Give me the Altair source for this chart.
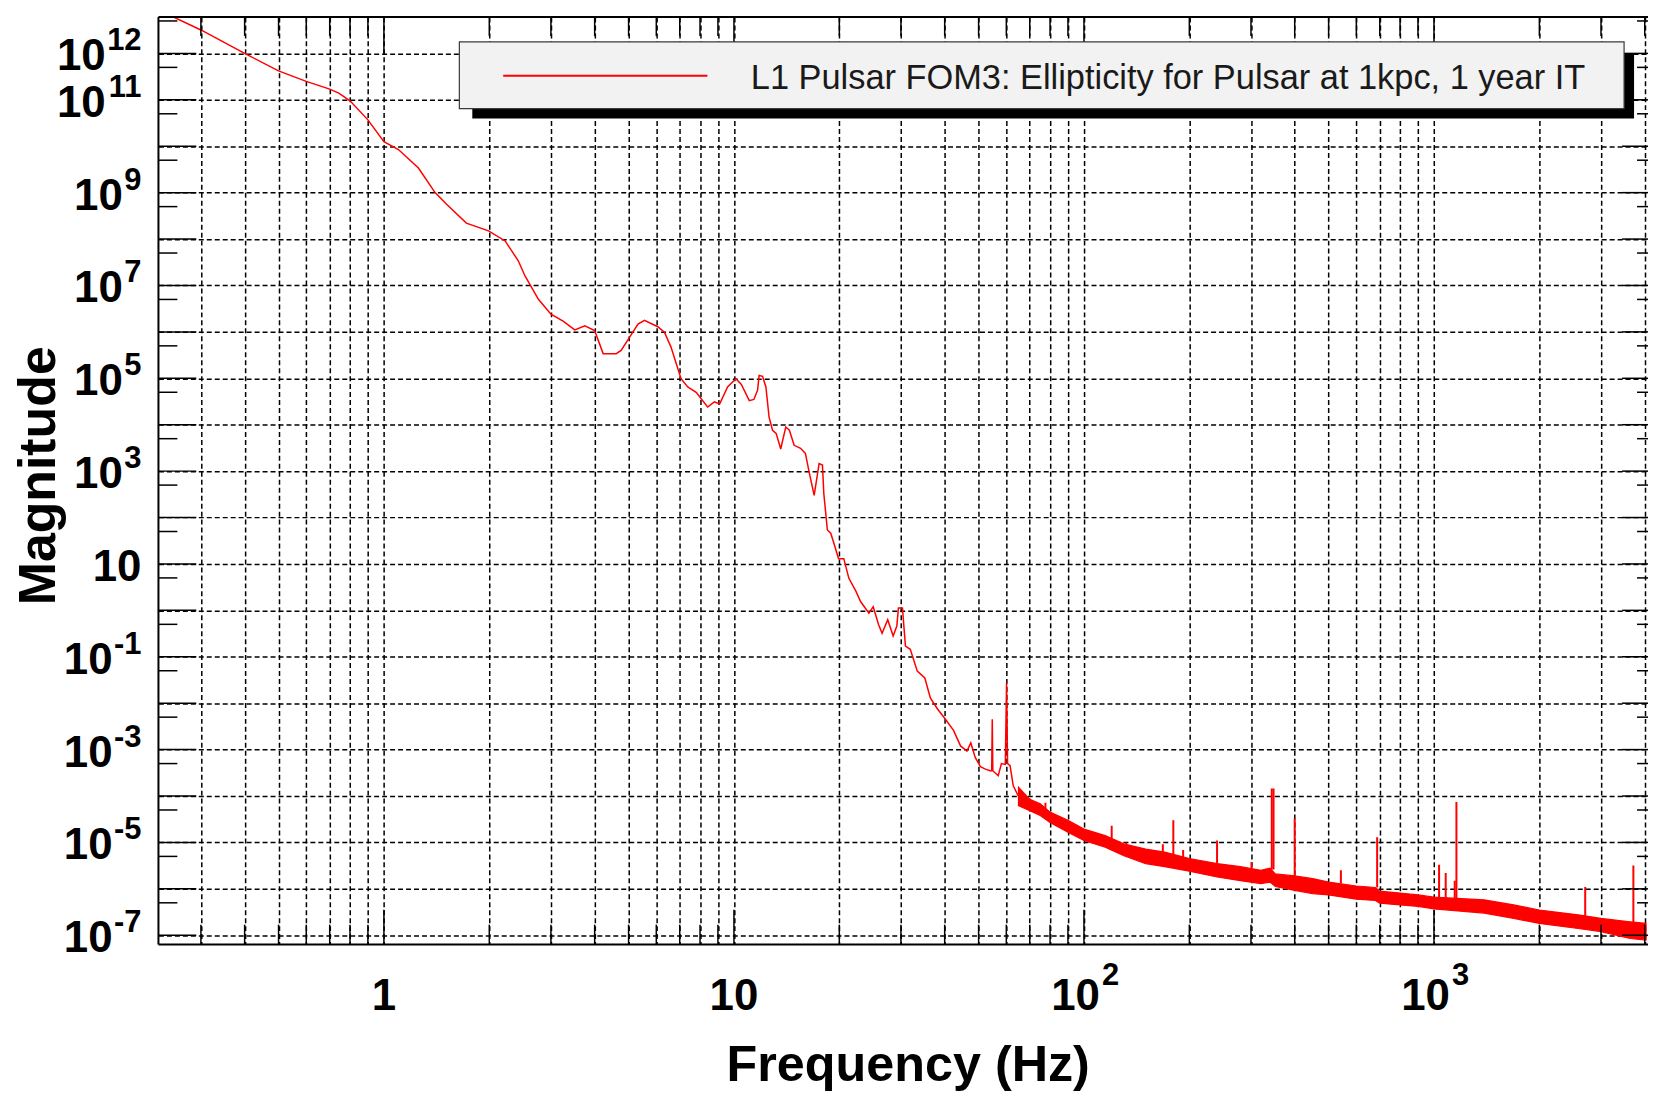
import altair as alt
import pandas as pd

# ---------------- values ----------------
# low-frequency part of the curve (thin line), Hz / magnitude
lf_freq = [0.248, 0.30, 0.40, 0.50, 0.60, 0.70, 0.743, 0.80, 0.90, 1.00,
           1.10, 1.255, 1.40, 1.51, 1.72, 1.99, 2.22, 2.42, 2.53, 2.76,
           3.00, 3.25, 3.51, 3.75, 4.00, 4.23, 4.61, 4.76, 5.03, 5.32,
           5.55, 6.06, 6.33, 6.61, 7.06, 7.38, 7.80, 8.41, 8.79, 9.10,
           9.59, 10.13, 10.5, 11.06, 11.4, 11.68, 11.8, 12.07, 12.34, 12.6,
           12.89, 13.2, 13.47, 13.6, 14.06, 14.4, 14.86, 15.5, 16.0, 16.4,
           16.95, 17.51, 17.9, 18.06, 18.49, 18.9, 19.3, 19.9, 20.6, 21.3,
           22.3, 23.0, 24.3, 25.0, 25.9, 26.5, 27.5, 28.5, 29.2, 29.5,
           30.3, 30.9, 31.9, 33.4, 35.1, 36.4, 38.2, 40.2, 42.4, 44.4,
           46.3, 47.5, 48.9, 50.6, 52.3, 53.9, 54.5, 54.7, 54.9, 55.6,
           56.9, 58.1, 59.6, 60.1, 60.5, 61.5, 62.8, 64.9]
lf_mag = [6.3e12, 3.2e12, 1.0e12, 4.2e11, 2.5e11, 1.7e11, 1.4e11, 9.5e10, 3.7e10, 1.26e10,
          8.5e9, 3.4e9, 1.0e9, 5.6e8, 2.2e8, 1.5e8, 9.1e7, 3.4e7, 1.6e7, 5.1e6,
          2.4e6, 1.7e6, 1.1e6, 1.35e6, 1.07e6, 3.4e5, 3.4e5, 4.0e5, 7.6e5, 1.48e6,
          1.78e6, 1.29e6, 9.8e5, 4.7e5, 9.8e4, 6.5e4, 5.0e4, 2.4e4, 3.1e4, 2.8e4,
          6.5e4, 9.8e4, 7.4e4, 3.3e4, 3.5e4, 5.5e4, 1.15e5, 1.1e5, 6.5e4, 1.45e4,
          7.6e3, 6.5e3, 3.9e3, 3.0e3, 8.9e3, 7.6e3, 3.6e3, 3.1e3, 2.4e3, 9.5e2,
          3.0e2, 1.45e3, 1.35e3, 3.3e2, 54, 46, 28, 13, 13, 4.9,
          2.6, 1.55, 0.87, 1.2, 0.49, 0.32, 0.63, 0.28, 0.46, 1.12,
          1.12, 0.17, 0.145, 0.049, 0.035, 0.013, 7.4e-3, 4.5e-3, 2.6e-3, 1.2e-3,
          9.3e-4, 1.4e-3, 6.8e-4, 4.3e-4, 3.8e-4, 3.5e-4, 3.5e-4, 4.5e-3, 3.5e-4, 3.2e-4,
          2.75e-4, 5.0e-4, 4.8e-4, 2.75e-2, 5.0e-4, 4.5e-4, 1.66e-4, 1.0e-4]

# noisy high-frequency band: upper and lower edge
band_freq = [65, 70, 75, 80, 90, 100, 115, 130, 150, 170,
             200, 240, 280, 320, 340, 352, 400, 450, 500, 600,
             680, 700, 800, 900, 1000, 1390, 1690, 2000, 2580, 3000,
             3630, 4035]
band_hi = [1.55e-4, 8.5e-5, 6.8e-5, 4.5e-5, 3.0e-5, 1.95e-5, 1.4e-5, 9.3e-6, 7.2e-6, 6.2e-6,
           4.5e-6, 3.5e-6, 3.0e-6, 2.5e-6, 2.8e-6, 2.1e-6, 1.9e-6, 1.66e-6, 1.4e-6, 1.15e-6,
           1.07e-6, 8.9e-7, 8.1e-7, 7.4e-7, 6.6e-7, 5.8e-7, 4.5e-7, 3.5e-7, 2.75e-7, 2.3e-7,
           1.95e-7, 1.8e-7]
band_lo = [6.2e-5, 4.8e-5, 3.8e-5, 2.7e-5, 1.66e-5, 1.1e-5, 7.9e-6, 5.2e-6, 3.5e-6, 3.0e-6,
           2.4e-6, 1.8e-6, 1.5e-6, 1.3e-6, 1.4e-6, 1.12e-6, 9.3e-7, 7.9e-7, 7.4e-7, 6.0e-7,
           5.6e-7, 4.9e-7, 4.5e-7, 4.2e-7, 3.7e-7, 3.0e-7, 2.3e-7, 1.8e-7, 1.4e-7, 1.2e-7,
           8.5e-8, 7.9e-8]

# narrow lines (spikes) standing out of the band
spike_freq = [77.6, 120, 132, 168, 180, 192, 240, 301, 344, 348,
              400, 542, 688, 1034, 1080, 1146, 1159, 2704, 3712]
spike_base = [4.5e-5, 1.2e-5, 9e-6, 6.2e-6, 5.5e-6, 4.8e-6, 3.5e-6, 2.6e-6, 2.6e-6, 2.6e-6,
              1.9e-6, 1.3e-6, 1.07e-6, 6.6e-7, 6.4e-7, 6.2e-7, 6.2e-7, 2.6e-7, 1.9e-7]
spike_peak = [7.2e-5, 2.3e-5, 1.0e-5, 9.1e-6, 3.0e-5, 6.9e-6, 1.1e-5, 3.8e-6, 1.45e-4, 1.45e-4,
              3.3e-5, 2.5e-6, 1.3e-5, 3.3e-6, 2.2e-6, 1.5e-6, 7.4e-5, 1.1e-6, 3.2e-6]

# axes
x_major_ticks = [1, 10, 100, 1000]
x_minor_ticks = [0.3, 0.4, 0.5, 0.6, 0.7, 0.8, 0.9,
                 2, 3, 4, 5, 6, 7, 8, 9,
                 20, 30, 40, 50, 60, 70, 80, 90,
                 200, 300, 400, 500, 600, 700, 800, 900,
                 2000, 3000, 4000]
x_plain_label_values = [1, 10]
x_plain_labels = ["1", "10"]
x_power_label_values = [100, 1000]
x_power_exponents = ["2", "3"]
y_major_ticks = [1e-7, 1e-6, 1e-5, 1e-4, 1e-3, 1e-2, 1e-1, 1, 10, 1e2,
                 1e3, 1e4, 1e5, 1e6, 1e7, 1e8, 1e9, 1e10, 1e11, 1e12]
y_minor_ticks = [5e-7, 5e-6, 5e-5, 5e-4, 5e-3, 5e-2, 0.5, 5, 50, 500,
                 5e3, 5e4, 5e5, 5e6, 5e7, 5e8, 5e9, 5e10, 5e11, 5e12]
y_label_values = [1e12, 1e11, 1e9, 1e7, 1e5, 1e3, 10, 0.1, 1e-3, 1e-5, 1e-7]
y_label_exponents = ["12", "11", "9", "7", "5", "3", "", "-1", "-3", "-5", "-7"]
label_base = "10"
x_domain = [0.2269, 4087]
y_domain = [6.3e-8, 6.1e12]

legend_label = "L1 Pulsar FOM3: Ellipticity for Pulsar at 1kpc, 1 year IT"
x_title = "Frequency (Hz)"
y_title = "Magnitude"

# ---------------- layout ----------------
W, H = 1495, 931
FONT = "Liberation Sans"
RED = "#ff0000"
BASE_FS, EXP_FS = 44, 31
DIGIT_W, MINUS_W = 0.556 * EXP_FS, 0.333 * EXP_FS

xs = alt.Scale(type="log", domain=x_domain, nice=False)
ys = alt.Scale(type="log", domain=y_domain, nice=False)

x_axis = alt.Axis(
    values=sorted(x_major_ticks + x_minor_ticks), labels=False,
    grid=True, gridColor="black", gridDash=[5, 3], gridWidth=1.5, gridOpacity=1,
    ticks=False, tickSize=0, domain=False,
    title=x_title, titleFont=FONT, titleFontWeight="bold", titleFontSize=50.5,
    titleColor="black", titleX=752, titleY=136, titleAlign="center",
    titleBaseline="alphabetic", titleAngle=0,
)
y_axis = alt.Axis(
    values=y_major_ticks, labels=False,
    grid=True, gridColor="black", gridDash=[5, 3], gridWidth=1.5, gridOpacity=1,
    ticks=False, tickSize=0, domain=False,
    title=y_title, titleFont=FONT, titleFontWeight="bold", titleFontSize=52,
    titleColor="black", titleX=-104, titleY=460, titleAlign="center",
    titleBaseline="alphabetic", titleAngle=270,
)


def X(field):
    return alt.X(field, scale=xs, axis=x_axis)


def Y(field):
    return alt.Y(field, scale=ys, axis=y_axis)


lf_df = pd.DataFrame({"f": lf_freq, "m": lf_mag})
band_df = pd.DataFrame({"f": band_freq, "hi": band_hi, "lo": band_lo})
spike_df = pd.DataFrame({"f": spike_freq, "base": spike_base, "peak": spike_peak})
xmaj_df = pd.DataFrame({"f": x_major_ticks})
xmin_df = pd.DataFrame({"f": x_minor_ticks})
ymaj_df = pd.DataFrame({"m": y_major_ticks})
ymin_df = pd.DataFrame({"m": y_minor_ticks})
one_df = pd.DataFrame({"label": [legend_label]})
xplain_df = pd.DataFrame({"f": x_plain_label_values, "t": x_plain_labels})
xpow_df = pd.DataFrame({"f": x_power_label_values, "e": x_power_exponents, "b": label_base})
ylab_df = pd.DataFrame({"m": y_label_values, "e": y_label_exponents, "b": label_base})

line = alt.Chart(lf_df).mark_line(color=RED, strokeWidth=1.5, clip=True).encode(
    x=X("f:Q"), y=Y("m:Q"),
)
band = alt.Chart(band_df).mark_area(color=RED, opacity=1, stroke=RED, strokeWidth=1.2,
                                    clip=True).encode(
    x=X("f:Q"), y=Y("hi:Q"), y2="lo:Q",
)
spikes = alt.Chart(spike_df).mark_rule(color=RED, strokeWidth=2, clip=True).encode(
    x=X("f:Q"), y=Y("peak:Q"), y2="base:Q",
)


def xtick(df, y0, y1):
    return alt.Chart(df).mark_rule(color="black", strokeWidth=1.5).encode(
        x=X("f:Q"), y=alt.value(y0), y2=alt.value(y1))


def ytick(df, x0, x1):
    return alt.Chart(df).mark_rule(color="black", strokeWidth=1.5).encode(
        y=Y("m:Q"), x=alt.value(x0), x2=alt.value(x1))


ticks = [
    xtick(xmaj_df, H, H - 35), xtick(xmin_df, H, H - 20),
    xtick(xmaj_df, 0, 37), xtick(xmin_df, 0, 19),
    ytick(ymaj_df, 0, 38), ytick(ymin_df, 0, 19),
    ytick(ymaj_df, W, W - 26), ytick(ymin_df, W, W - 11),
]

frame = [
    alt.Chart(one_df).mark_rule(color="black", strokeWidth=2).encode(
        x=alt.value(0), x2=alt.value(W), y=alt.value(0)),
    alt.Chart(one_df).mark_rule(color="black", strokeWidth=2).encode(
        x=alt.value(0), y=alt.value(0), y2=alt.value(H)),
    alt.Chart(one_df).mark_rule(color="black", strokeWidth=2).encode(
        x=alt.value(0), x2=alt.value(W), y=alt.value(H)),
]

# ---- tick labels: "10" with a raised exponent, right aligned on the y axis ----
def txt(**kw):
    return dict(font=FONT, fontWeight="bold", color="black", **kw)


Y_PAD = 17
y_base_groups = [
    ("length(datum.e) == 0", 0),
    ("length(datum.e) == 1", DIGIT_W + 1.5),
    ("length(datum.e) == 2 && indexof(datum.e, '-') < 0", 2 * DIGIT_W + 1.5),
    ("indexof(datum.e, '-') >= 0", DIGIT_W + MINUS_W + 1.5),
]
y_labels = [
    alt.Chart(ylab_df).transform_filter(test).mark_text(
        **txt(align="right", baseline="middle", fontSize=BASE_FS, dy=4)).encode(
        x=alt.value(-Y_PAD - shift), y=Y("m:Q"), text="b:N")
    for test, shift in y_base_groups
]
y_labels.append(
    alt.Chart(ylab_df).mark_text(
        **txt(align="right", baseline="middle", fontSize=EXP_FS, dy=-12)).encode(
        x=alt.value(-Y_PAD), y=Y("m:Q"), text="e:N"))

X_BASELINE = H + 66
x_labels = [
    alt.Chart(xplain_df).mark_text(
        **txt(align="center", baseline="alphabetic", fontSize=BASE_FS)).encode(
        x=X("f:Q"), y=alt.value(X_BASELINE), text="t:N"),
    alt.Chart(xpow_df).mark_text(
        **txt(align="right", baseline="alphabetic", fontSize=BASE_FS, dx=16)).encode(
        x=X("f:Q"), y=alt.value(X_BASELINE), text="b:N"),
    alt.Chart(xpow_df).mark_text(
        **txt(align="left", baseline="alphabetic", fontSize=EXP_FS, dx=18)).encode(
        x=X("f:Q"), y=alt.value(X_BASELINE - 25), text="e:N"),
]

legend = [
    alt.Chart(one_df).mark_rect(color="black").encode(
        x=alt.value(315), x2=alt.value(1481), y=alt.value(37), y2=alt.value(102)),
    alt.Chart(one_df).mark_rect(fill="#f2f2f2", stroke="#3a3a3a", strokeWidth=1.2).encode(
        x=alt.value(302), x2=alt.value(1471), y=alt.value(25), y2=alt.value(92)),
    alt.Chart(one_df).mark_rule(color=RED, strokeWidth=2).encode(
        x=alt.value(346), x2=alt.value(551), y=alt.value(59)),
    alt.Chart(one_df).mark_text(align="left", baseline="alphabetic", font=FONT,
                                fontSize=34.5, color="#1a1a1a").encode(
        x=alt.value(594.5), y=alt.value(72.5), text="label:N"),
]

chart = alt.layer(line, band, spikes, *ticks, *frame, *y_labels, *x_labels,
                  *legend).properties(
    width=W, height=H,
    padding={"left": 151, "top": 7, "right": 0, "bottom": 150},
    autosize=alt.AutoSizeParams(type="none"),
    background="white",
).configure_view(stroke=None)

chart.save("out.html", embed_options={"renderer": "svg", "actions": False})
